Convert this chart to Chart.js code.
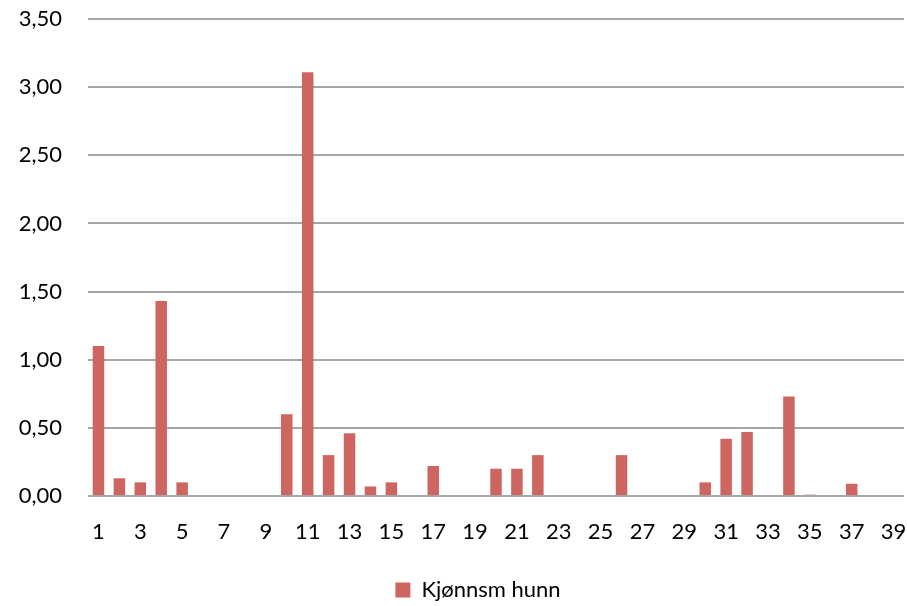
<!DOCTYPE html>
<html>
<head>
<meta charset="utf-8">
<script src="https://cdn.jsdelivr.net/npm/chart.js@4/dist/chart.umd.min.js"></script>
<style>
  html, body { margin: 0; padding: 0; background: #fff; }
  #wrap { width: 907px; height: 606px; }
</style>
</head>
<body>
<div id="wrap"><canvas id="chart"></canvas></div>
<script>
// categories 1..39
const categories = ['1','2','3','4','5','6','7','8','9','10','11','12','13','14','15','16','17','18','19','20',
  '21','22','23','24','25','26','27','28','29','30','31','32','33','34','35','36','37','38','39'];
// values
const hunnValues = [1.10, 0.13, 0.10, 1.43, 0.10, 0, 0, 0, 0, 0.60,
  3.11, 0.30, 0.46, 0.07, 0.10, 0, 0.22, 0, 0, 0.20,
  0.20, 0.30, 0, 0, 0, 0.30, 0, 0, 0, 0.10,
  0.42, 0.47, 0, 0.73, 0.01, 0, 0.09, 0, 0];
const seriesName = 'Kjønnsm hunn';
const yTicks = [0, 0.5, 1, 1.5, 2, 2.5, 3, 3.5];

const font = "Lato, 'Open Sans', sans-serif";

// nudge the legend a bit to the left, like the original
const legendShift = {
  id: 'legendShift',
  afterLayout(chart) {
    chart.legend.left -= 18;
    chart.legend.right -= 18;
  }
};

const ctx = document.getElementById('chart').getContext('2d');
const chart = new Chart(ctx, {
  type: 'bar',
  data: {
    labels: categories,
    datasets: [{
      label: seriesName,
      data: hunnValues,
      backgroundColor: 'rgb(205, 102, 96)',
      borderWidth: 0,
      barPercentage: 0.55,
      categoryPercentage: 1
    }]
  },
  plugins: [legendShift],
  options: {
    responsive: true,
    maintainAspectRatio: false,
    animation: false,
    layout: { padding: { left: 0, right: 3, top: 19, bottom: 0 } },
    plugins: {
      legend: {
        position: 'bottom',
        fullSize: false,
        maxHeight: 29,
        labels: {
          font: { family: font, size: 22 },
          color: '#000',
          boxWidth: 15,
          boxHeight: 15,
          padding: 2
        }
      },
      tooltip: { enabled: false }
    },
    scales: {
      x: {
        grid: { display: false },
        border: { display: false },
        afterFit: function(s) { s.height = 81; s.paddingLeft = 0; s.paddingRight = 0; },
        ticks: {
          autoSkip: false,
          maxRotation: 0,
          color: '#000',
          padding: 15,
          font: { family: font, size: 22 },
          callback: function(val, i) { return i % 2 === 0 ? categories[i] : ''; }
        }
      },
      y: {
        min: 0,
        max: 3.5,
        afterFit: function(s) { s.width = 88; },
        afterBuildTicks: function(s) { s.ticks = yTicks.map(v => ({ value: v })); },
        grid: { color: '#a6a6a6', lineWidth: 2, drawTicks: true, tickLength: 26, tickColor: 'rgba(0,0,0,0)' },
        border: { display: false },
        ticks: {
          color: '#000',
          padding: 0,
          font: { family: font, size: 22 },
          callback: function(v) { return v.toFixed(2).replace('.', ','); }
        }
      }
    }
  }
});
</script>
</body>
</html>
